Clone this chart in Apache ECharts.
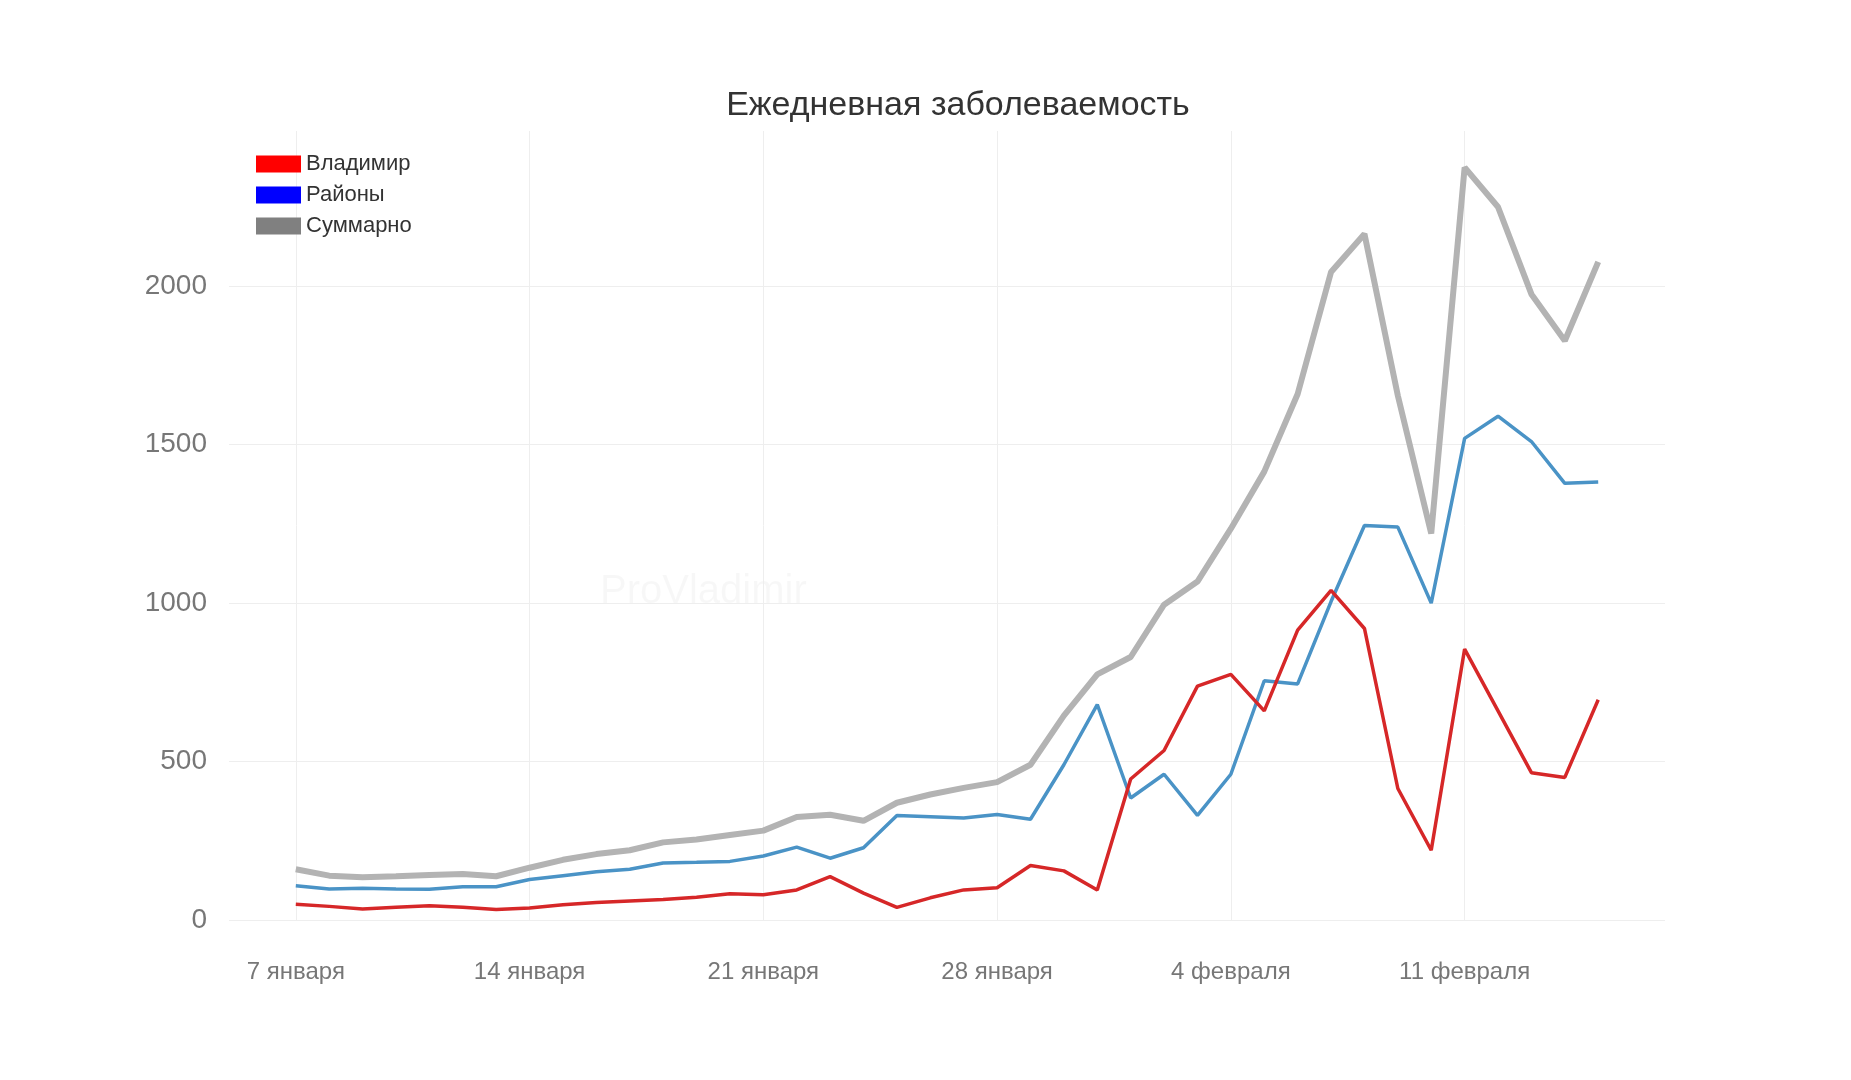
<!DOCTYPE html>
<html><head><meta charset="utf-8">
<script src="https://cdn.jsdelivr.net/npm/echarts@6/dist/echarts.min.js"></script>
<style>html,body{margin:0;background:#fff}#c{width:1851px;height:1080px}</style>
</head><body><div id="c"></div>
<script>
// days: 7 января .. 15 февраля
var dates = [];
for (var d = 7; d <= 31; d++) dates.push(d + " января");
for (var d = 1; d <= 15; d++) dates.push(d + " февраля");
// padding categories around the data
var axisCats = ["5 января", "6 января"].concat(dates, ["16 февраля", "17 февраля"]);

var vladimir = [50, 43, 35, 40, 45, 40, 33, 38, 48, 55, 60, 65, 72, 83, 80, 95, 137, 85, 40, 70,
  95, 102, 172, 155, 95, 445, 535, 738, 775, 660, 915, 1040, 920, 415, 220, 855, 660, 465, 450, 695];
var rayony = [108, 98, 100, 98, 97, 105, 105, 128, 140, 152, 160, 180, 182, 185, 202, 230, 195, 228, 330, 326,
  322, 333, 318, 490, 680, 385, 460, 330, 460, 755, 745, 1005, 1245, 1240, 1000, 1520, 1590, 1510, 1378, 1382];
var summa = [160, 140, 135, 138, 142, 145, 138, 165, 190, 208, 220, 245, 254, 268, 282, 325, 332, 313, 370, 396,
  417, 435, 490, 645, 775, 830, 995, 1068, 1235, 1415, 1660, 2045, 2165, 1655, 1220, 2375, 2250, 1975, 1828, 2077];

function pairs(arr) { return arr.map(function (v, i) { return [dates[i], v]; }); }
function tickAt(i) { return (i - 2) % 7 === 0 && i >= 2 && i <= 41; }

var font = "Liberation Sans";
var myChart = echarts.init(document.getElementById("c"));
var option = {
  animation: false,
  title: { text: "Ежедневная заболеваемость", left: 953, textAlign: "center", top: 84,
    textStyle: { fontFamily: font, fontWeight: "normal", fontSize: 34, color: "#333" } },
  graphic: [{ type: "text", left: 600, top: 572,
    style: { text: "ProVladimir", fontSize: 40, fill: "rgba(0,0,0,0.03)", fontFamily: font } }],
  legend: {
    orient: "vertical", left: 251, top: 148, itemWidth: 45, itemHeight: 17, itemGap: 9,
    textStyle: { fontFamily: font, fontSize: 22, color: "#333" },
    data: [
      { name: "Владимир", icon: "rect", itemStyle: { color: "#ff0000" } },
      { name: "Районы", icon: "rect", itemStyle: { color: "#0000ff" } },
      { name: "Суммарно", icon: "rect", itemStyle: { color: "#808080" } }
    ]
  },
  grid: { left: 229, right: 186, top: 131, bottom: 160 },
  xAxis: {
    type: "category", data: axisCats, boundaryGap: false,
    axisLine: { show: false }, axisTick: { show: false },
    axisLabel: { interval: function (i) { return tickAt(i); }, fontFamily: font, fontSize: 24,
      color: "#777", margin: 40 },
    splitLine: { show: true, interval: function (i) { return tickAt(i); }, lineStyle: { color: "#eee" } }
  },
  yAxis: {
    type: "value", min: 0, max: 2490, interval: 500,
    axisLine: { show: false }, axisTick: { show: false },
    axisLabel: { showMaxLabel: false, fontFamily: font, fontSize: 28, color: "#777", margin: 22,
      formatter: function (v) { return String(v); } },
    splitLine: { lineStyle: { color: ["#eee", "#eee", "#eee", "#eee", "#eee", "rgba(0,0,0,0)"] } }
  },
  series: [
    { name: "Суммарно", type: "line", data: pairs(summa), showSymbol: false, z: 1,
      itemStyle: { color: "#808080" }, lineStyle: { color: "#b3b3b3", width: 6 } },
    { name: "Районы", type: "line", data: pairs(rayony), showSymbol: false, z: 2,
      itemStyle: { color: "#0000ff" }, lineStyle: { color: "#4a93c6", width: 3.5 } },
    { name: "Владимир", type: "line", data: pairs(vladimir), showSymbol: false, z: 3,
      itemStyle: { color: "#ff0000" }, lineStyle: { color: "#d62728", width: 3.5 } }
  ]
};
myChart.setOption(option);
</script>
</body></html>
